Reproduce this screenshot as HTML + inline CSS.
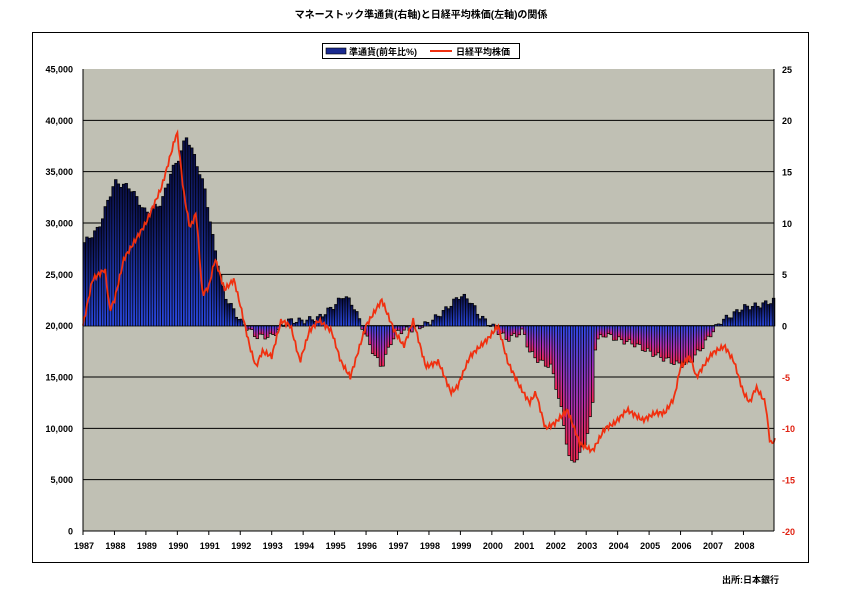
<!DOCTYPE html>
<html><head><meta charset="utf-8"><style>
body{margin:0;background:#fff;width:842px;height:595px;overflow:hidden}
text{font-family:"Liberation Sans","Noto Sans CJK JP",sans-serif;font-weight:bold}
</style></head><body>
<svg id="s" width="842" height="595" xmlns="http://www.w3.org/2000/svg">
<defs>
<linearGradient id="gp" x1="0" y1="0" x2="0" y2="1">
<stop offset="0" stop-color="#0a0f45"/>
<stop offset="1" stop-color="#2a48e0"/>
</linearGradient>
<linearGradient id="gn" x1="0" y1="0" x2="0" y2="1">
<stop offset="0" stop-color="#3048e8"/>
<stop offset="0.6" stop-color="#b030b0"/>
<stop offset="1" stop-color="#f02850"/>
</linearGradient>
</defs>
<text x="421" y="18" font-size="10" text-anchor="middle">マネーストック準通貨(右軸)と日経平均株価(左軸)の関係</text>
<rect x="32.5" y="32.5" width="776" height="530" fill="none" stroke="#000" stroke-width="1"/>
<rect x="83" y="69" width="691" height="462" fill="#c0c0b4"/>
<g id="grid"></g>
<g id="bars"></g>
<polyline id="nk" fill="none" stroke="#f03010" stroke-width="1.8"/>
<line x1="83" y1="69" x2="83" y2="531" stroke="#000"/>
<line x1="774" y1="69" x2="774" y2="531" stroke="#000"/>
<line x1="83" y1="531" x2="774" y2="531" stroke="#000"/>
<g id="lab"></g>
<rect x="322.5" y="43.5" width="197" height="15" fill="#fff" stroke="#000"/>
<rect x="326" y="48" width="20" height="6" fill="#1a2a90" stroke="#000" stroke-width="0.6"/>
<text x="349" y="55" font-size="9">準通貨(前年比%)</text>
<line x1="430" y1="51" x2="452" y2="51" stroke="#f03010" stroke-width="2"/>
<text x="456" y="55" font-size="9">日経平均株価</text>
<text x="722" y="583" font-size="9">出所:日本銀行</text>
</svg>
<script>
var NS="http://www.w3.org/2000/svg";
function el(p,t,a,tx){var e=document.createElementNS(NS,t);for(var k in a)e.setAttribute(k,a[k]);if(tx!=null)e.textContent=tx;document.getElementById(p).appendChild(e);}
var X0=83,YW=31.45,yL=function(v){return 531-v*462/45000},yR=function(v){return 326-v*462/45};
for(var v=0;v<=45000;v+=5000){var y=yL(v);if(v>0&&v<45000)el("grid","line",{x1:83,x2:774,y1:y,y2:y,stroke:"#000","stroke-width":1});
el("lab","text",{x:73,y:y+3.5,"font-size":9,"text-anchor":"end"},v==0?"0":v.toLocaleString("en-US"));}
for(var r=-20;r<=25;r+=5){el("lab","text",{x:782,y:yR(r)+3.5,"font-size":9,fill:r<0?"#e02010":"#000"},""+r);}
for(var yr=1987;yr<=2008;yr++){var x=X0+(yr-1987)*YW;el("lab","line",{x1:x,x2:x,y1:531,y2:535,stroke:"#000"});el("lab","text",{x:x+1,y:549,"font-size":9,"text-anchor":"middle"},""+yr);}
function interp(k,t){for(var i=0;i<k.length-1;i++){if(t>=k[i][0]&&t<=k[i+1][0]){var f=(t-k[i][0])/(k[i+1][0]-k[i][0]);return k[i][1]+f*(k[i+1][1]-k[i][1]);}}return k[k.length-1][1];}
var M=[[1987,8],[1987.5,9.5],[1988,14],[1988.5,13.5],[1989,11],[1989.5,12],[1989.8,15],[1990,16],[1990.3,18.5],[1990.6,16],[1990.9,13],[1991.1,9],[1991.5,3],[1992,0.5],[1992.5,-1],[1993,-1],[1993.5,0.5],[1994,0.5],[1994.5,0.8],[1995,2],[1995.3,3],[1995.6,2],[1996,-1],[1996.3,-3],[1996.5,-4],[1996.8,-1.5],[1997,-0.5],[1997.5,-0.3],[1998,0.3],[1998.5,1.5],[1999,3],[1999.3,2.5],[1999.6,1],[2000,0],[2000.5,-1.3],[2001,-0.5],[2001.2,-2.5],[2001.5,-3.4],[2001.9,-4],[2002.2,-8],[2002.5,-13.5],[2002.8,-12.5],[2003,-11],[2003.2,-8],[2003.3,-1.5],[2003.6,-0.8],[2004,-1.3],[2004.5,-1.7],[2005,-2.5],[2005.5,-3.2],[2006,-3.8],[2006.3,-3.5],[2006.7,-2],[2007,-0.6],[2007.3,0.5],[2007.6,1],[2008,1.8],[2008.5,2],[2009,2.5]];
for(var m=0;m<264;m++){var t=1987+m/12,v=interp(M,t+1/24)+Math.sin(m*1.7)*0.3;var x=X0+m*YW/12,y=yR(v),z=326;
el("bars","rect",{x:x.toFixed(2),y:Math.min(y,z).toFixed(1),width:(YW/12).toFixed(2),height:Math.max(0.5,Math.abs(y-z)).toFixed(1),fill:v>=0?"url(#gp)":"url(#gn)",stroke:"#000","stroke-width":0.7});}
var N=[[1987,20000],[1987.3,24500],[1987.7,25500],[1987.85,21500],[1988,22500],[1988.3,26500],[1988.6,28000],[1989,30000],[1989.5,33500],[1989.99,38900],[1990.2,33000],[1990.4,29500],[1990.6,31000],[1990.8,23000],[1991,23800],[1991.2,26500],[1991.5,23500],[1991.8,24500],[1992,22000],[1992.3,18000],[1992.5,16000],[1992.7,17500],[1993,17000],[1993.3,20500],[1993.6,20000],[1993.9,16500],[1994.2,19500],[1994.5,20500],[1994.9,19500],[1995.2,16500],[1995.5,15000],[1995.8,18000],[1996,20000],[1996.5,22500],[1996.9,19500],[1997.2,18000],[1997.5,20500],[1997.9,16000],[1998.3,16500],[1998.7,13500],[1998.9,14000],[1999.3,17000],[1999.9,18800],[2000.2,20000],[2000.5,16500],[2000.9,14000],[2001.2,12500],[2001.4,13500],[2001.7,10000],[2002,10500],[2002.4,11800],[2002.8,8500],[2003.2,7800],[2003.6,10000],[2003.9,10500],[2004.3,11800],[2004.8,10800],[2005.2,11500],[2005.5,11500],[2005.8,13000],[2006,16000],[2006.3,17000],[2006.5,15000],[2007,17300],[2007.4,18000],[2007.7,16500],[2008,13500],[2008.2,12500],[2008.4,14000],[2008.7,12500],[2008.85,8500],[2009,8800]];
var pts=[];for(var m=0;m<=528;m++){var t=1987+m/24,v=interp(N,t)+Math.sin(m*2.3)*250;pts.push((X0+m*YW/24).toFixed(1)+","+yL(v).toFixed(1));}
document.getElementById("nk").setAttribute("points",pts.join(" "));
</script>
</body></html>
